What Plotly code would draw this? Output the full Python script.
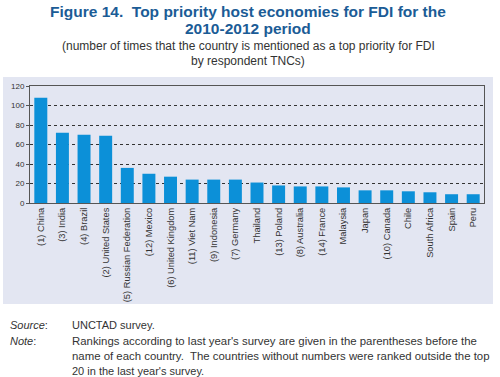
import plotly.graph_objects as go

countries = ["(1) China", "(3) India", "(4) Brazil", "(2) United States",
             "(5) Russian Federation", "(12) Mexico", "(6) United Kingdom",
             "(11) Viet Nam", "(9) Indonesia", "(7) Germany", "Thailand",
             "(13) Poland", "(8) Australia", "(14) France", "Malaysia", "Japan",
             "(10) Canada", "Chile", "South Africa", "Spain", "Peru"]
values = [108, 72, 70, 69, 36, 30, 27, 24, 24, 24, 21, 18, 17, 17, 16, 13, 13, 12, 11, 9, 9]
y_ticks = [0, 20, 40, 60, 80, 100, 120]

FONT = "Liberation Sans, Arial, sans-serif"
W, H = 500, 377
PL, PR, PT, PB = 30, 484, 86, 203  # plot area in page pixels
pw, ph = PR - PL, PB - PT


def px(x):
    return (x - PL) / pw


def py(y):
    return (PB - y) / ph


fig = go.Figure()
fig.add_trace(go.Bar(x=countries, y=values, marker=dict(color="#0C90D8", line=dict(width=0)),
                     hoverinfo="x+y"))

fig.update_layout(
    width=W, height=H,
    margin=dict(l=PL, r=W - PR, t=PT, b=H - PB, autoexpand=False),
    paper_bgcolor="white", plot_bgcolor="white",
    showlegend=False, bargap=0.4,
    font=dict(family=FONT, color="#333333"),
    xaxis=dict(tickangle=-90, tickfont=dict(size=9.3, color="#333333", family=FONT),
               showline=True, linecolor="#555555", linewidth=1, mirror=True,
               ticks="", showgrid=False, fixedrange=True),
    yaxis=dict(range=[0, 120], tickvals=y_ticks, tickfont=dict(size=8, color="#333333", family=FONT),
               showline=True, linecolor="#555555", linewidth=1, mirror=True,
               showgrid=True, gridcolor="#333333", griddash="dot", gridwidth=1,
               zeroline=False, ticks="outside", ticklen=3, tickcolor="#555555", fixedrange=True),
    shapes=[dict(type="rect", xref="paper", yref="paper", layer="below",
                 x0=px(3), x1=px(493), y0=py(304), y1=py(77),
                 fillcolor="#E3E6F2", line=dict(width=0))],
)

annos = [
    (248, 11, "<b>Figure 14.  Top priority host economies for FDI for the</b>", 15.5, "#1B5C96"),
    (248, 29, "<b>2010-2012 period</b>", 15.5, "#1B5C96"),
    (248, 46, "(number of times that the country is mentioned as a top priority for FDI", 12, "#333333"),
    (248, 61, "by respondent TNCs)", 12, "#333333"),
]
for x, y, t, s, c in annos:
    fig.add_annotation(x=px(x), y=py(y), xref="paper", yref="paper",
                       xanchor="center", yanchor="middle", text=t, showarrow=False,
                       font=dict(size=s, color=c, family=FONT))

notes = [
    (8, 325, "<i>Source</i>:", 11),
    (8, 341, "<i>Note</i>:", 11),
    (70, 325, "UNCTAD survey.", 11),
    (70, 341, "Rankings according to last year's survey are given in the parentheses before the", 11.4),
    (70, 356, "name of each country.  The countries without numbers were ranked outside the top", 11.4),
    (70, 371, "20 in the last year's survey.", 11),
]
for x, y, t, s in notes:
    fig.add_annotation(x=px(x), y=py(y), xref="paper", yref="paper",
                       xanchor="left", yanchor="middle", text=t, showarrow=False,
                       font=dict(size=s, color="#333333", family=FONT))

fig.write_html("out.html", config={"displayModeBar": False},
               post_script="document.body.style.margin='0';")
